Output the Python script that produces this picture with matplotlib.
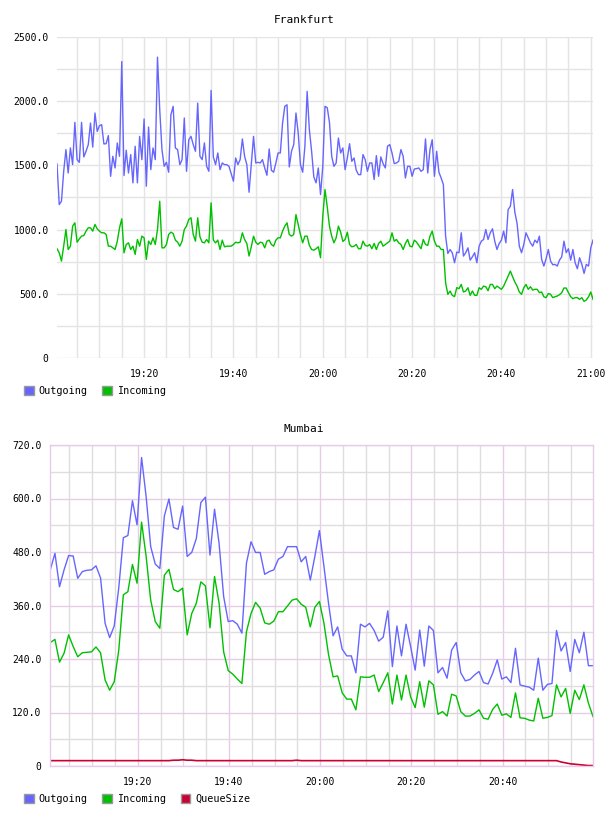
import matplotlib
matplotlib.use("Agg")
import matplotlib.pyplot as plt
import matplotlib.dates as mdates
from matplotlib.patches import Patch
from matplotlib.ticker import MultipleLocator, FuncFormatter
import pandas as pd

# Frankfurt: 30 s samples from 19:00:30 to 21:00:30
fra_out = [
    1511, 1195, 1221, 1454, 1623, 1441, 1636, 1506, 1835, 1545,
    1524, 1835, 1566, 1610, 1662, 1830, 1643, 1908, 1765, 1809,
    1817, 1667, 1669, 1732, 1415, 1571, 1480, 1675, 1571, 2309,
    1421, 1618, 1441, 1584, 1364, 1649, 1364, 1726, 1545, 1861,
    1338, 1799, 1467, 1636, 1545, 2343, 1934, 1623, 1493, 1524,
    1447, 1895, 1960, 1636, 1623, 1506, 1545, 1869, 1454, 1700,
    1726, 1662, 1610, 1985, 1571, 1545, 1675, 1493, 1454, 2084,
    1566, 1506, 1597, 1467, 1519, 1506, 1506, 1493, 1436, 1377,
    1558, 1506, 1545, 1706, 1571, 1506, 1291, 1506, 1726, 1519,
    1524, 1519, 1545, 1480, 1423, 1628, 1462, 1447, 1519, 1597,
    1597, 1830, 1960, 1972, 1488, 1610, 1662, 1908, 1752, 1506,
    1447, 1649, 2076, 1778, 1610, 1410, 1364, 1480, 1273, 1493,
    1960, 1950, 1835, 1571, 1493, 1519, 1713, 1597, 1636, 1467,
    1558, 1669, 1532, 1558, 1462, 1428, 1428, 1584, 1545, 1454,
    1519, 1519, 1390, 1576, 1415, 1566, 1514, 1480, 1649, 1662,
    1597, 1514, 1519, 1532, 1623, 1571, 1402, 1493, 1493, 1415,
    1472, 1475, 1480, 1454, 1467, 1706, 1441, 1623, 1700, 1415,
    1610, 1447, 1402, 1351, 949, 814, 845, 819, 742, 825,
    820, 975, 794, 820, 858, 762, 788, 820, 742, 871,
    910, 923, 1001, 923, 975, 1006, 910, 845, 892, 918,
    988, 897, 1156, 1182, 1312, 1136, 1048, 871, 820, 884,
    975, 936, 897, 871, 918, 897, 949, 768, 716, 773,
    845, 755, 726, 729, 716, 762, 788, 910, 820, 851,
    762, 845, 742, 695, 781, 729, 659, 729, 716, 858,
    918,
]
fra_in = [
    851, 819, 755, 871, 1001, 845, 871, 1027, 1053, 902,
    928, 949, 954, 988, 1014, 1014, 988, 1040, 1006, 988,
    975, 975, 962, 871, 871, 858, 845, 910, 1014, 1084,
    819, 884, 897, 845, 871, 807, 923, 871, 949, 936,
    768, 910, 884, 936, 884, 1001, 1221, 858, 858, 884,
    962, 980, 970, 918, 902, 871, 910, 1001, 1027, 1079,
    1092, 962, 910, 1092, 944, 902, 897, 923, 897, 1208,
    918, 897, 918, 845, 918, 866, 871, 871, 871, 884,
    902, 897, 902, 975, 923, 892, 794, 866, 949, 902,
    884, 902, 897, 858, 910, 918, 884, 871, 918, 936,
    936, 988, 1027, 1053, 962, 949, 962, 1117, 1040, 962,
    897, 949, 949, 877, 845, 840, 851, 866, 781, 1105,
    1312, 1177, 1027, 949, 897, 936, 1027, 980, 908, 923,
    980, 884, 866, 871, 884, 851, 851, 910, 877, 871,
    884, 851, 892, 845, 892, 910, 871, 884, 897, 910,
    975, 910, 923, 897, 884, 845, 892, 923, 871, 866,
    918, 902, 877, 851, 923, 884, 877, 949, 988, 910,
    871, 871, 845, 845, 586, 496, 521, 488, 478, 548,
    540, 573, 514, 522, 547, 488, 522, 488, 488, 547,
    535, 560, 555, 524, 573, 573, 540, 560, 547, 535,
    560, 599, 638, 677, 633, 592, 560, 514, 496, 547,
    573, 535, 555, 529, 535, 535, 509, 514, 477, 470,
    503, 496, 470, 477, 483, 493, 509, 545, 545, 509,
    477, 462, 470, 470, 457, 470, 441, 452, 477, 514,
    457,
]

# Mumbai: 1 min samples from 19:00:50 to 20:59:50
mum_out = [
    441, 477, 402, 440, 472, 471, 421, 436, 439, 440,
    449, 422, 320, 288, 314, 400, 512, 517, 595, 541,
    692, 604, 492, 453, 443, 561, 599, 535, 531, 583,
    470, 479, 510, 591, 603, 473, 576, 499, 380, 324,
    326, 318, 298, 455, 503, 479, 479, 430, 436, 440,
    464, 470, 492, 492, 492, 458, 470, 417, 470, 528,
    447, 365, 292, 312, 262, 247, 247, 209, 318, 312,
    320, 304, 280, 289, 348, 223, 314, 247, 318, 268,
    215, 305, 224, 314, 304, 209, 221, 197, 260, 277,
    209, 191, 194, 204, 212, 187, 184, 208, 238, 195,
    200, 187, 264, 182, 179, 177, 170, 242, 170, 183,
    185, 304, 258, 277, 212, 284, 254, 300, 225, 225,
]
mum_in = [
    277, 284, 233, 253, 294, 268, 245, 254, 255, 256,
    267, 254, 193, 170, 189, 260, 384, 391, 452, 410,
    547, 470, 372, 324, 309, 428, 441, 396, 391, 399,
    294, 342, 365, 413, 404, 310, 425, 365, 256, 214,
    206, 195, 185, 301, 342, 367, 354, 321, 318, 325,
    346, 346, 359, 372, 375, 363, 356, 312, 356, 369,
    320, 250, 200, 202, 164, 150, 150, 126, 200, 199,
    199, 204, 167, 187, 209, 139, 204, 148, 204, 155,
    131, 189, 132, 191, 182, 116, 122, 112, 161, 157,
    122, 112, 112, 118, 126, 107, 105, 127, 139, 114,
    117, 109, 164, 108, 107, 103, 101, 152, 107, 109,
    113, 182, 155, 174, 118, 170, 149, 182, 141, 111,
]
mum_queue = [
    12, 12, 12, 12, 12, 12, 12, 12, 12, 12,
    12, 12, 12, 12, 12, 12, 12, 12, 12, 12,
    12, 12, 12, 12, 12, 12, 12, 13, 13, 14,
    13, 13, 12, 12, 12, 12, 12, 12, 12, 12,
    12, 12, 12, 12, 12, 12, 12, 12, 12, 12,
    12, 12, 12, 12, 13, 12, 12, 12, 12, 12,
    12, 12, 12, 12, 12, 12, 12, 12, 12, 12,
    12, 12, 12, 12, 12, 12, 12, 12, 12, 12,
    12, 12, 12, 12, 12, 12, 12, 12, 12, 12,
    12, 12, 12, 12, 12, 12, 12, 12, 12, 12,
    12, 12, 12, 12, 12, 12, 12, 12, 12, 12,
    12, 12, 9, 7, 5, 4, 3, 2, 1, 1,
]

fra_time = pd.date_range("2020-01-01 19:00:30", periods=len(fra_out), freq="30s")
mum_time = pd.date_range("2020-01-01 19:00:50", periods=len(mum_out), freq="1min")

BLUE = "#6666ff"
GREEN = "#00c000"
RED = "#cc0033"
GRAY = "#e4e4e4"
PINK = "#e6cce6"
MONO = "DejaVu Sans Mono"


def yfmt(v, pos):
    return "0" if v == 0 else "%.1f" % v


def style_axes(ax, ymax, ymajor, yminor, grid_minor, grid_major):
    ax.set_ylim(0, ymax)
    ax.yaxis.set_major_locator(MultipleLocator(ymajor))
    ax.yaxis.set_minor_locator(MultipleLocator(yminor))
    ax.yaxis.set_major_formatter(FuncFormatter(yfmt))
    ax.xaxis.set_major_locator(mdates.MinuteLocator(byminute=[0, 20, 40]))
    ax.xaxis.set_minor_locator(mdates.MinuteLocator(byminute=range(0, 60, 5)))
    ax.xaxis.set_major_formatter(mdates.DateFormatter("%H:%M"))
    ax.grid(which="minor", color=grid_minor, lw=1.0)
    ax.grid(which="major", color=grid_major, lw=1.0)
    ax.set_axisbelow(True)
    ax.tick_params(which="both", length=0, labelsize=7)
    ax.tick_params(axis="y", pad=6)
    ax.tick_params(axis="x", pad=8)
    for lab in ax.get_xticklabels() + ax.get_yticklabels():
        lab.set_family(MONO)


fig = plt.figure(figsize=(6.08, 8.16), dpi=100)

# Frankfurt
ax1 = fig.add_axes([57 / 608, 1 - 358 / 816, 536 / 608, 321 / 816])
ax1.plot(fra_time, fra_out, color=BLUE, lw=1.0)
ax1.plot(fra_time, fra_in, color=GREEN, lw=1.0)
ax1.set_xlim(fra_time[0], fra_time[-1])
style_axes(ax1, 2500, 500, 250, GRAY, GRAY)
for s in ax1.spines.values():
    s.set_visible(False)
fig.text(0.5, 1 - 20 / 816, "Frankfurt", ha="center", va="center", family=MONO, fontsize=8)

# Mumbai
ax2 = fig.add_axes([50 / 608, 1 - 766 / 816, 543 / 608, 321 / 816])
ax2.plot(mum_time, mum_out, color=BLUE, lw=1.0)
ax2.plot(mum_time, mum_in, color=GREEN, lw=1.0)
ax2.plot(mum_time, mum_queue, color=RED, lw=1.2)
ax2.set_xlim(mum_time[0] - pd.Timedelta("5s"), mum_time[-1])
style_axes(ax2, 720, 120, 60, "#e0dce0", PINK)
for s in ax2.spines.values():
    s.set_color(PINK)
    s.set_linewidth(1.0)
fig.text(0.5, 1 - 429 / 816, "Mumbai", ha="center", va="center", family=MONO, fontsize=8)

legend_kw = dict(loc="upper left", bbox_transform=fig.transFigure, frameon=False,
                 handlelength=0.95, handleheight=0.95, handletextpad=0.45,
                 columnspacing=1.5, borderpad=0, borderaxespad=0,
                 prop={"family": MONO, "size": 7.3})

h1 = [Patch(facecolor=BLUE, edgecolor="#999999", label="Outgoing"),
      Patch(facecolor=GREEN, edgecolor="#999999", label="Incoming")]
ax1.legend(handles=h1, ncol=2, bbox_to_anchor=(24 / 608, 1 - 386 / 816), **legend_kw)

h2 = [Patch(facecolor=BLUE, edgecolor="#999999", label="Outgoing"),
      Patch(facecolor=GREEN, edgecolor="#999999", label="Incoming"),
      Patch(facecolor=RED, edgecolor="#999999", label="QueueSize")]
ax2.legend(handles=h2, ncol=3, bbox_to_anchor=(24 / 608, 1 - 794 / 816), **legend_kw)

fig.savefig("out.png", dpi=100)
